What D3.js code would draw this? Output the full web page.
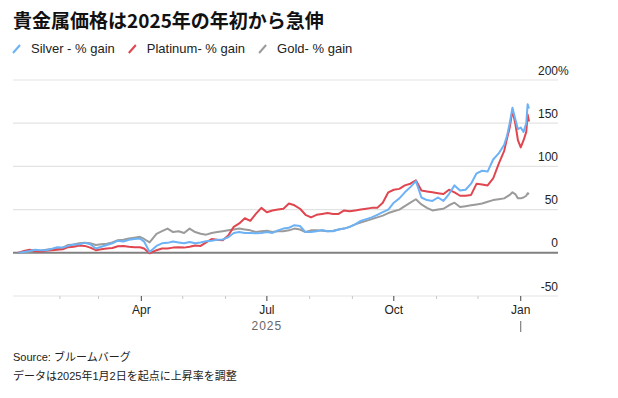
<!DOCTYPE html>
<html>
<head>
<meta charset="utf-8">
<script src="https://cdn.jsdelivr.net/npm/d3@7"></script>
<style>
  body { margin: 0; background: #fff; }
  svg { display: block; font-family: "Liberation Sans", Arial, "Noto Sans CJK JP", sans-serif; }
</style>
</head>
<body>
<div id="chart"></div>
<script>
// dates of the readings (roughly every 4 days, denser at the end)
var dates = [
  "2025-01-02","2025-01-06","2025-01-10","2025-01-14","2025-01-18","2025-01-22","2025-01-26","2025-01-30",
  "2025-02-03","2025-02-07","2025-02-11","2025-02-15","2025-02-19","2025-02-23","2025-02-27",
  "2025-03-03","2025-03-07","2025-03-11","2025-03-15","2025-03-19","2025-03-23","2025-03-27","2025-03-31",
  "2025-04-03","2025-04-07","2025-04-12","2025-04-16","2025-04-20","2025-04-24","2025-04-28",
  "2025-05-02","2025-05-06","2025-05-10","2025-05-14","2025-05-18","2025-05-22","2025-05-26","2025-05-30",
  "2025-06-03","2025-06-07","2025-06-11","2025-06-15","2025-06-19","2025-06-23","2025-06-27",
  "2025-07-01","2025-07-05","2025-07-09","2025-07-13","2025-07-17","2025-07-21","2025-07-25","2025-07-29",
  "2025-08-02","2025-08-06","2025-08-10","2025-08-14","2025-08-18","2025-08-22","2025-08-26","2025-08-30",
  "2025-09-03","2025-09-07","2025-09-11","2025-09-15","2025-09-19","2025-09-23","2025-09-27",
  "2025-10-01","2025-10-05","2025-10-09","2025-10-13","2025-10-17","2025-10-21","2025-10-25","2025-10-29",
  "2025-11-02","2025-11-06","2025-11-10","2025-11-14","2025-11-18","2025-11-22","2025-11-26","2025-11-30",
  "2025-12-04","2025-12-08","2025-12-12","2025-12-16","2025-12-20","2025-12-22","2025-12-24","2025-12-26",
  "2025-12-28","2025-12-30","2026-01-01","2026-01-03","2026-01-05","2026-01-06","2026-01-07"
];

var silver = [
  0, 1, 2, 3.5, 3, 3, 4.5, 6.5, 6, 8,
  9.5, 10, 11.5, 10, 5, 7, 9, 11, 14, 13,
  15, 16, 16.5, 13, 1, 8, 11, 11.5, 13, 12,
  11, 12.5, 11, 12, 13.5, 14, 15, 15.5, 18, 23,
  24, 23, 23, 22.5, 23, 24, 23, 26, 28, 29,
  32, 31, 24, 24, 25, 26.5, 25, 25, 27, 28,
  30, 33, 37, 39, 41, 44, 47, 50, 58, 63,
  70, 76, 83, 64, 61, 60, 64, 60, 68, 78,
  72, 73, 80, 92, 95, 94, 108, 115, 125,
  135, 150, 168, 155, 143, 145, 140, 150, 172, 167
];

var platinum = [
  0, 2, 3.5, 2, 1.5, 2.5, 3, 3.5, 4, 6.5,
  7, 8.5, 8, 6, 3, 4, 5, 5.5, 7.5, 8,
  7, 6.5, 6.5, 5, -0.5, 3, 5, 5, 6, 6.5,
  6, 7, 8.5, 8, 12, 16, 15, 14.5, 20, 30,
  34, 40, 37, 45, 52, 47, 49, 50, 51, 57,
  55, 51, 44, 41, 44, 45, 46, 45, 45, 49,
  48, 49, 50, 51, 52, 52, 58, 70, 73, 74,
  78, 80, 84, 72, 71, 70, 69, 68, 73, 70,
  66, 66, 67, 80, 79, 78, 86, 103, 118,
  132, 145, 165, 150, 130, 122, 130, 140, 160, 152
];

var gold = [
  0, 0.5, 1.5, 2, 2.5, 3.5, 4.5, 5, 6, 9,
  9.5, 11, 11.5, 11, 9, 10, 10.5, 12, 14.5, 15,
  16.5, 17.5, 18.5, 16, 12, 22, 25, 28, 24, 25,
  23, 28, 24, 22, 21, 23, 24, 25, 26, 27,
  28, 27, 26, 24, 25, 25.5, 24, 25, 25, 26,
  28, 27, 24, 26, 26, 25.5, 25, 25.5, 27, 28,
  30, 33, 35, 37, 39, 41, 43, 46, 48, 50,
  54, 58, 62, 56, 52, 49, 50, 51, 55, 58,
  53, 54, 55, 56, 57, 59, 61, 62, 63,
  65, 67, 70, 68, 63, 63, 64, 66, 69, 68
];

var seriesNames = ["Silver - % gain", "Platinum- % gain", "Gold- % gain"];
var seriesColors = ["#6cb2f5", "#e0464f", "#9b9b9b"];
var yTicks = [-50, 0, 50, 100, 150, 200];

var width = 618, height = 398;
var parse = d3.timeParse("%Y-%m-%d");

var svg = d3.select("#chart").append("svg")
    .attr("width", width)
    .attr("height", height);

var x = d3.scaleTime()
    .domain([new Date(2024, 11, 29), new Date(2026, 0, 28)])
    .range([13, 558]);

var y = d3.scaleLinear()
    .domain([-50, 200])
    .range([296, 80]);

// title
svg.append("text")
    .attr("x", 13)
    .attr("y", 28)
    .style("font-family", "'Noto Sans CJK JP', sans-serif")
    .style("font-size", "19px")
    .style("font-weight", "bold")
    .style("fill", "#111")
    .text("貴金属価格は2025年の年初から急伸");

// legend
var lx = 13;
seriesNames.forEach(function (name, i) {
    svg.append("line")
        .attr("x1", lx).attr("y1", 53)
        .attr("x2", lx + 7).attr("y2", 45)
        .style("stroke", seriesColors[i])
        .style("stroke-width", 2);
    var t = svg.append("text")
        .attr("x", lx + 18)
        .attr("y", 52.5)
        .style("font-size", "13px")
        .style("fill", "#222")
        .text(name);
    lx = lx + 18 + t.node().getComputedTextLength() + 14;
});

// grid + y labels
yTicks.forEach(function (t) {
    svg.append("line")
        .attr("x1", 13).attr("x2", 558)
        .attr("y1", y(t)).attr("y2", y(t))
        .style("stroke", t === 0 ? "#808080" : "#e3e3e3")
        .style("stroke-width", t === 0 ? 2 : 1.2);
    svg.append("text")
        .attr("x", 558)
        .attr("y", y(t) - 5.5)
        .attr("text-anchor", "end")
        .style("font-size", "12px")
        .style("fill", "#222")
        .text(t);
    if (t === 200) {
        svg.append("text")
            .attr("x", 558)
            .attr("y", y(t) - 5.5)
            .style("font-size", "12px")
            .style("fill", "#222")
            .text("%");
    }
});

// x axis ticks
var months = d3.timeMonth.range(new Date(2025, 1, 1), new Date(2026, 1, 1));
months.forEach(function (m) {
    var major = m.getMonth() % 3 === 0;
    svg.append("line")
        .attr("x1", x(m)).attr("x2", x(m))
        .attr("y1", y(-50)).attr("y2", y(-50) + (major ? 5 : 3))
        .style("stroke", major ? "#444" : "#c8c8c8")
        .style("stroke-width", 1);
    if (major) {
        svg.append("text")
            .attr("x", x(m))
            .attr("y", 313.5)
            .attr("text-anchor", "middle")
            .style("font-size", "12px")
            .style("fill", "#222")
            .text(d3.timeFormat("%b")(m));
    }
});

svg.append("text")
    .attr("x", x(new Date(2025, 6, 1)))
    .attr("y", 330)
    .attr("text-anchor", "middle")
    .style("font-size", "12px")
    .style("letter-spacing", "1px")
    .style("fill", "#666")
    .text("2025");

svg.append("line")
    .attr("x1", x(new Date(2026, 0, 1))).attr("x2", x(new Date(2026, 0, 1)))
    .attr("y1", 321).attr("y2", 332)
    .style("stroke", "#666")
    .style("stroke-width", 1);

// lines
var line = d3.line()
    .x(function (d) { return x(d.date); })
    .y(function (d) { return y(d.v); });

var all = [silver, platinum, gold];
[2, 1, 0].forEach(function (i) {
    var data = dates.map(function (s, j) {
        return {date: parse(s), v: all[i][j]};
    });
    svg.append("path")
        .datum(data)
        .attr("d", line)
        .style("fill", "none")
        .style("stroke", seriesColors[i])
        .style("stroke-width", 2)
        .style("stroke-linejoin", "round");
});

// source
svg.append("text")
    .attr("x", 13).attr("y", 361)
    .style("font-size", "11px")
    .style("fill", "#222")
    .text("Source: ブルームバーグ");

svg.append("text")
    .attr("x", 13).attr("y", 380)
    .style("font-size", "11px")
    .style("fill", "#222")
    .text("データは2025年1月2日を起点に上昇率を調整");
</script>
</body>
</html>
